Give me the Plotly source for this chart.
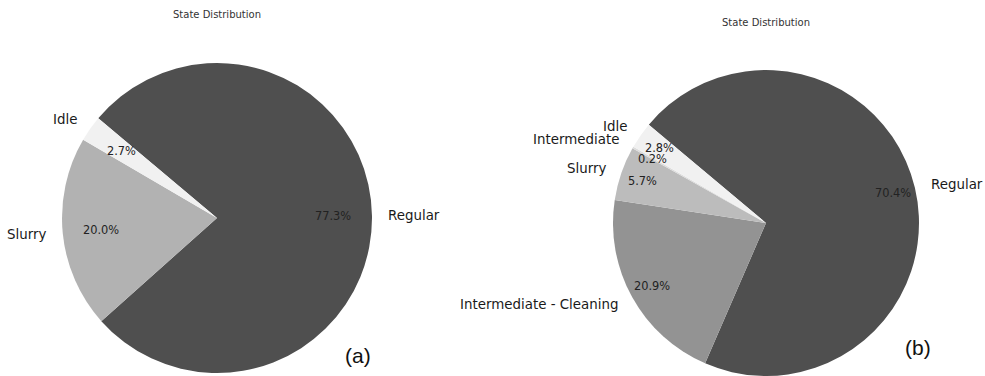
import math
import plotly.graph_objects as go

# (a) state shares, percent
labels_a = ["Regular", "Slurry", "Idle"]
values_a = [77.3, 20.0, 2.7]
colors_a = ["#4f4f4f", "#b2b2b2", "#f1f1f1"]

# (b) state shares, percent
labels_b = ["Regular", "Intermediate - Cleaning", "Slurry", "Intermediate", "Idle"]
values_b = [70.4, 20.9, 5.7, 0.2, 2.8]
colors_b = ["#4f4f4f", "#939393", "#bcbcbc", "#dcdcdc", "#f1f1f1"]

title_text = "State Distribution"

W, H = 985, 376
ROT = -50  # first slice starts 50 deg left of 12 o'clock, goes clockwise


def domain(cx, cy, r):
    return dict(x=[(cx - r) / W, (cx + r) / W], y=[1 - (cy + r) / H, 1 - (cy - r) / H])


def px(x, y):
    return x / W, 1 - y / H


def note(x, y, text, size, color, family="DejaVu Sans", xanchor="center", **kw):
    x, y = px(x, y)
    return dict(x=x, y=y, xref="paper", yref="paper", showarrow=False, text=text,
                xanchor=xanchor, yanchor="middle",
                font=dict(family=family, size=size, color=color), **kw)


def pie_annotations(labels, values, cx, cy, r, pctdist):
    out = []
    total = sum(values)
    start = ROT
    for lab, v in zip(labels, values):
        span = v / total * 360
        mid = math.radians(start + span / 2)
        start += span
        dx, dy = math.sin(mid), -math.cos(mid)
        # percent inside the slice
        out.append(note(cx + pctdist * r * dx, cy + pctdist * r * dy,
                        "%.1f%%" % (v / total * 100), 11.4, "#222222", borderpad=0))
        # label outside
        out.append(note(cx + 1.1 * r * dx, cy + 1.1 * r * dy, lab, 13.4, "#1a1a1a",
                        xanchor="left" if dx > 0 else "right", borderpad=0))
    return out


pies = [
    (labels_a, values_a, colors_a, 217, 218, 155, 0.75, 15, "(a)", 358, 355),
    (labels_b, values_b, colors_b, 766, 223, 153, 0.85, 22, "(b)", 918, 347),
]

fig = go.Figure()
annotations = []
for labels, values, colors, cx, cy, r, pd_, ty, tag, tx, tgy in pies:
    fig.add_trace(go.Pie(
        labels=labels, values=values, sort=False, direction="clockwise", rotation=ROT,
        marker=dict(colors=colors, line=dict(width=0)),
        textinfo="none", hoverinfo="label+percent", showlegend=False,
        domain=domain(cx, cy, r),
    ))
    annotations += pie_annotations(labels, values, cx, cy, r, pd_)
    annotations.append(note(cx, ty, title_text, 10, "#333333"))
    annotations.append(note(tx, tgy, tag, 21, "#111111", family="Liberation Sans",
                            bgcolor="white"))

fig.update_layout(
    width=W, height=H,
    margin=dict(l=0, r=0, t=0, b=0),
    paper_bgcolor="white", plot_bgcolor="white",
    annotations=annotations,
)
fig.write_html("out.html", config={"displayModeBar": False},
               post_script="document.body.style.margin='0';")
